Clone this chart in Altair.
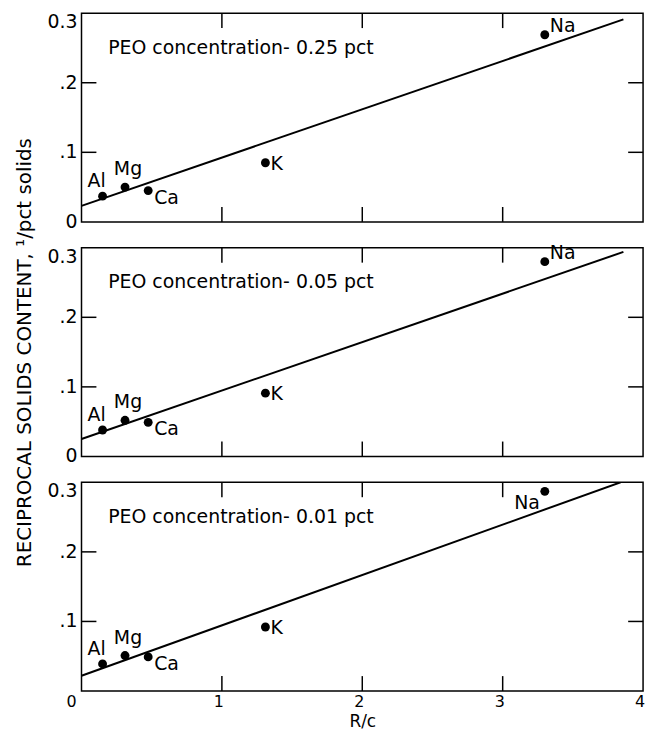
import altair as alt
import pandas as pd

# ---- data ----
elements = ["Al", "Mg", "Ca", "K", "Na"]
rc = [0.15, 0.31, 0.475, 1.31, 3.30]
recip_025 = [0.037, 0.050, 0.045, 0.085, 0.269]
recip_005 = [0.038, 0.052, 0.049, 0.091, 0.280]
recip_001 = [0.039, 0.051, 0.049, 0.092, 0.287]
concentrations = ["0.25", "0.05", "0.01"]
fit_x_start = [0.0, 0.0, 0.0]
fit_x_end = [3.86, 3.86, 3.84]
fit_y_start = [0.023, 0.025, 0.022]
fit_y_end = [0.291, 0.294, 0.300]
x_label_values = [0, 1, 2, 3, 4]
x_label_text = ["0", "1", "2", "3", "4"]
y_label_values = [0, 0.1, 0.2, 0.3]
y_label_text = ["0", ".1", ".2", "0.3"]
inner_x_ticks = [1, 2, 3]
inner_y_ticks = [0.1, 0.2]

FONT = "DejaVu Sans"
W, H = 565, 210
TICK = 15

# label placement: element -> (align, dx, dy, baseline)
place_default = {
    "Al": ("center", -6, -15, "middle"),
    "Mg": ("center", 3, -12, "alphabetic"),
    "Ca": ("left", 6, 13, "alphabetic"),
    "K": ("left", 5, 1, "middle"),
    "Na": ("left", 5, -3, "alphabetic"),
}
place_last = dict(place_default)
place_last["Na"] = ("right", -5, 18, "alphabetic")


def panel(idx, ys, bottom, middle):
    df = pd.DataFrame({"el": elements, "rc": rc, "r": ys})
    line_df = pd.DataFrame({"rc": [fit_x_start[idx], fit_x_end[idx]],
                            "r": [fit_y_start[idx], fit_y_end[idx]]})
    xscale = alt.Scale(domain=[0, 4], nice=False, zero=False)
    yscale = alt.Scale(domain=[0, 0.3], nice=False, zero=False)

    if bottom:
        xaxis = alt.Axis(labels=False, ticks=False, domain=False, grid=False,
                         title="R/c", titleFont=FONT, titleFontSize=17,
                         titleFontWeight="normal", titleColor="black", titlePadding=23)
    else:
        xaxis = None
    if middle:
        yaxis = alt.Axis(labels=False, ticks=False, domain=False, grid=False,
                         title="RECIPROCAL SOLIDS CONTENT, ¹/pct solids", titleFont=FONT,
                         titleFontSize=20, titleFontWeight="normal", titleColor="black",
                         titlePadding=47)
    else:
        yaxis = None

    base = alt.Chart(df)
    pts = base.mark_circle(size=80, color="black", opacity=1).encode(
        x=alt.X("rc:Q", scale=xscale, axis=xaxis),
        y=alt.Y("r:Q", scale=yscale, axis=yaxis),
    )
    line = alt.Chart(line_df).mark_line(color="black", strokeWidth=2, clip=True).encode(
        x=alt.X("rc:Q"), y=alt.Y("r:Q"))

    places = place_last if bottom else place_default
    layers = [pts, line]
    for el in elements:
        align, dx, dy, baseline = places[el]
        layers.append(
            base.transform_filter(alt.datum.el == el).mark_text(
                align=align, dx=dx, dy=dy, baseline=baseline, fontSize=19, font=FONT,
                color="black").encode(x="rc:Q", y="r:Q", text="el:N"))

    ann_df = pd.DataFrame({"rc": [0.19], "r": [0.25],
                           "t": [f"PEO concentration- {concentrations[idx]} pct"]})
    layers.append(alt.Chart(ann_df).mark_text(
        align="left", baseline="middle", fontSize=19, font=FONT, color="black").encode(
        x="rc:Q", y="r:Q", text="t:N"))

    # inward ticks
    yt = pd.DataFrame({"r": inner_y_ticks})
    xt = pd.DataFrame({"rc": inner_x_ticks})
    layers += [
        alt.Chart(yt).mark_rule(color="black", strokeWidth=1.5).encode(
            y="r:Q", x=alt.value(0), x2=alt.value(TICK)),
        alt.Chart(yt).mark_rule(color="black", strokeWidth=1.5).encode(
            y="r:Q", x=alt.value(W - TICK), x2=alt.value(W)),
        alt.Chart(xt).mark_rule(color="black", strokeWidth=1.5).encode(
            x="rc:Q", y=alt.value(0), y2=alt.value(TICK)),
        alt.Chart(xt).mark_rule(color="black", strokeWidth=1.5).encode(
            x="rc:Q", y=alt.value(H - TICK), y2=alt.value(H)),
    ]

    # y tick labels (the origin "0" is shared with the x axis in the bottom panel)
    ylab = pd.DataFrame({"r": y_label_values, "lab": y_label_text})
    if bottom:
        ylab = ylab[ylab["r"] > 0]
    ylab_mid = ylab[ylab["r"] < 0.25]
    ylab_top = ylab[ylab["r"] >= 0.25]
    layers.append(alt.Chart(ylab_mid).mark_text(
        align="right", baseline="middle", fontSize=19, font=FONT, color="black").encode(
        y="r:Q", x=alt.value(-4), text="lab:N"))
    layers.append(alt.Chart(ylab_top).mark_text(
        align="right", baseline="top", fontSize=19, font=FONT, color="black").encode(
        y="r:Q", x=alt.value(-4), text="lab:N"))

    if bottom:
        xlab = pd.DataFrame({"rc": x_label_values, "lab": x_label_text})
        layers.append(alt.Chart(xlab[xlab["rc"] == 0]).mark_text(
            align="center", baseline="top", dx=-10, fontSize=16, font=FONT,
            color="black").encode(x="rc:Q", y=alt.value(H + 3), text="lab:N"))
        layers.append(alt.Chart(xlab[xlab["rc"] > 0]).mark_text(
            align="center", baseline="top", dx=-3, fontSize=16, font=FONT,
            color="black").encode(x="rc:Q", y=alt.value(H + 3), text="lab:N"))

    return alt.layer(*layers).properties(width=W, height=H)


chart = alt.vconcat(
    panel(0, recip_025, False, False),
    panel(1, recip_005, False, True),
    panel(2, recip_001, True, False),
    spacing=26, bounds="flush",
).properties(
    padding={"left": 14, "top": 9, "right": 8, "bottom": 2}
).configure(background="white", view=alt.ViewConfig(stroke="black", strokeWidth=1.5))

chart.save("out.html", embed_options={"renderer": "svg", "actions": False})
